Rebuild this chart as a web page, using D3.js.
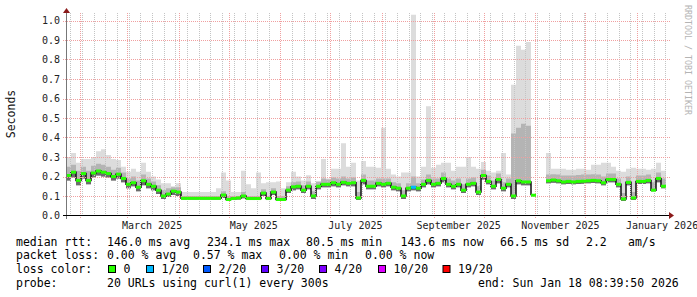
<!DOCTYPE html>
<html>
<head>
<meta charset="utf-8">
<script src="https://cdn.jsdelivr.net/npm/d3@7"></script>
<style>
  html, body { margin: 0; padding: 0; background: #fff; }
  svg { display: block; }
  text { font-family: "DejaVu Sans Mono", monospace; }
</style>
</head>
<body>
<script>
// time frame: last 360 days, one sample every 3 days
const endTime = new Date(2026, 0, 18, 8, 39, 50);
const spanDays = 360;
const stepDays = 3;

// median rtt (seconds)
const median = [
  0.205, 0.222, 0.18, 0.215, 0.18, 0.218, 0.228, 0.222, 0.215, 0.2,
  0.212, 0.19, 0.16, 0.168, 0.145, 0.178, 0.16, 0.15, 0.13, 0.1,
  0.11, 0.125, 0.12, 0.088, 0.088, 0.088, 0.088, 0.088, 0.088, 0.088,
  0.088, 0.105, 0.082, 0.087, 0.09, 0.1, 0.087, 0.087, 0.087, 0.115,
  0.087, 0.12, 0.082, 0.082, 0.13, 0.147, 0.15, 0.13, 0.15, 0.1,
  0.15, 0.16, 0.16, 0.168, 0.16, 0.17, 0.165, 0.168, 0.09, 0.18,
  0.15, 0.15, 0.165, 0.16, 0.165, 0.145, 0.14, 0.1, 0.14, 0.145,
  0.14, 0.16, 0.18, 0.16, 0.165, 0.19, 0.16, 0.15, 0.16, 0.13,
  0.16, 0.165, 0.12, 0.205, 0.175, 0.15, 0.185, 0.14, 0.16, 0.1,
  0.178, 0.172, 0.172, 0.104, null, null, 0.178, 0.182, 0.178, 0.172,
  0.175, 0.172, 0.175, 0.176, 0.178, 0.18, 0.178, 0.168, 0.185, 0.185,
  0.16, 0.085, 0.17, 0.09, 0.175, 0.175, 0.18, 0.13, 0.19, 0.15
];

// smoke: highest ping, upper quartile-ish ping, lowest ping
const smokeMax = [
  0.3, 0.32, 0.27, 0.29, 0.29, 0.3, 0.33, 0.34, 0.31, 0.29,
  0.285, 0.25, 0.225, 0.24, 0.225, 0.27, 0.225, 0.2, 0.185, 0.165,
  0.165, 0.15, 0.165, 0.12, 0.12, 0.12, 0.12, 0.12, 0.12, 0.12,
  0.14, 0.22, 0.18, 0.12, 0.12, 0.23, 0.16, 0.14, 0.22, 0.165,
  0.17, 0.17, 0.175, 0.14, 0.17, 0.225, 0.2, 0.18, 0.207, 0.165,
  0.165, 0.29, 0.19, 0.24, 0.24, 0.37, 0.25, 0.27, 0.18, 0.28,
  0.25, 0.25, 0.245, 0.45, 0.24, 0.21, 0.2, 0.22, 0.22, 1.03,
  0.2, 0.25, 0.56, 0.245, 0.26, 0.27, 0.27, 0.23, 0.25, 0.25,
  0.3, 0.25, 0.24, 0.275, 0.23, 0.22, 0.23, 0.32, 0.21, 0.67,
  0.87, 0.85, 0.89, 0.83, null, null, 0.32, 0.24, 0.24, 0.24,
  0.235, 0.235, 0.24, 0.24, 0.235, 0.26, 0.26, 0.27, 0.27, 0.25,
  0.23, 0.225, 0.24, 0.245, 0.24, 0.24, 0.235, 0.24, 0.27, 0.23
];
const smokeMid = [
  0.25, 0.26, 0.23, 0.25, 0.23, 0.255, 0.265, 0.26, 0.25, 0.235,
  0.245, 0.22, 0.19, 0.2, 0.18, 0.21, 0.19, 0.175, 0.155, 0.13,
  0.14, 0.145, 0.145, 0.1, 0.1, 0.1, 0.1, 0.1, 0.1, 0.1,
  0.1, 0.125, 0.1, 0.1, 0.1, 0.12, 0.1, 0.1, 0.1, 0.135,
  0.1, 0.14, 0.1, 0.1, 0.15, 0.17, 0.175, 0.155, 0.175, 0.125,
  0.175, 0.19, 0.185, 0.195, 0.19, 0.2, 0.19, 0.195, 0.12, 0.21,
  0.18, 0.18, 0.19, 0.19, 0.19, 0.17, 0.165, 0.13, 0.165, 0.2,
  0.165, 0.185, 0.21, 0.19, 0.19, 0.22, 0.19, 0.18, 0.19, 0.16,
  0.19, 0.195, 0.15, 0.235, 0.205, 0.18, 0.215, 0.17, 0.19, 0.42,
  0.45, 0.47, 0.46, 0.4, null, null, 0.21, 0.212, 0.21, 0.205,
  0.205, 0.205, 0.208, 0.21, 0.21, 0.212, 0.21, 0.2, 0.215, 0.215,
  0.19, 0.115, 0.2, 0.12, 0.205, 0.205, 0.21, 0.17, 0.22, 0.19
];
const smokeMin = [
  0.18, 0.195, 0.155, 0.19, 0.16, 0.195, 0.205, 0.2, 0.195, 0.18,
  0.19, 0.17, 0.14, 0.15, 0.125, 0.155, 0.14, 0.13, 0.11, 0.085,
  0.095, 0.105, 0.1, 0.082, 0.082, 0.082, 0.082, 0.082, 0.082, 0.082,
  0.082, 0.09, 0.075, 0.08, 0.082, 0.088, 0.08, 0.08, 0.08, 0.1,
  0.08, 0.105, 0.075, 0.075, 0.115, 0.13, 0.135, 0.115, 0.135, 0.085,
  0.135, 0.145, 0.145, 0.15, 0.145, 0.155, 0.15, 0.15, 0.08, 0.16,
  0.135, 0.135, 0.15, 0.145, 0.15, 0.13, 0.125, 0.085, 0.125, 0.13,
  0.125, 0.145, 0.16, 0.145, 0.15, 0.17, 0.145, 0.135, 0.145, 0.115,
  0.145, 0.15, 0.105, 0.185, 0.16, 0.135, 0.165, 0.125, 0.145, 0.085,
  0.16, 0.155, 0.155, 0.09, null, null, 0.165, 0.168, 0.165, 0.16,
  0.162, 0.16, 0.162, 0.163, 0.165, 0.167, 0.165, 0.155, 0.17, 0.17,
  0.145, 0.075, 0.155, 0.08, 0.162, 0.162, 0.165, 0.125, 0.17, 0.14
];

// samples with packet loss (index, lost pings)
const lossSamples = [[69, 1]];

const lossLabels = ["0", "1/20", "2/20", "3/20", "4/20", "10/20", "19/20"];
const lossLimits = [0, 1, 2, 3, 4, 10, 19];
const lossColors = ["#26ff00", "#00b8ff", "#0059ff", "#5e00ff", "#7e00ff", "#dd00ff", "#ff0000"];

const yTicks = [0, 0.1, 0.2, 0.3, 0.4, 0.5, 0.6, 0.7, 0.8, 0.9, 1.0];

const legendRows = [
  [["median rtt:", 16], ["146.0 ms avg", 107], ["234.1 ms max", 207], ["80.5 ms min", 306],
   ["143.6 ms now", 400.5], ["66.5 ms sd", 500], ["2.2", 586], ["am/s", 628]],
  [["packet loss:", 16], ["0.00 % avg", 107], ["0.57 % max", 193], ["0.00 % min", 279], ["0.00 % now", 365]],
  [["loss color:", 16]],
  [["probe:", 16], ["20 URLs using curl(1) every 300s", 107], ["end: Sun Jan 18 08:39:50 2026", 478]]
];
const swatchX = [108, 146, 203, 261, 319, 378, 442.5];

const width = 697, height = 297;
const svg = d3.select('body').append('svg')
    .attr('width', width)
    .attr('height', height);

svg.append('rect').attr('width', width).attr('height', height).attr('fill', '#fff');

const startTime = new Date(+endTime - spanDays * 864e5);
const x = d3.scaleTime().domain([startTime, endTime]).range([66, 666]);
const y = d3.scaleLinear().domain([0, 1]).range([215.5, 20.5]);
const crisp = v => Math.round(v) + 0.5;

const rows = median.map((m, i) => ({
    t: new Date(+startTime + i * stepDays * 864e5),
    med: m, hi: smokeMax[i], mid: smokeMid[i], lo: smokeMin[i], loss: 0
}));
lossSamples.forEach(([i, l]) => rows[i].loss = l);
// close the last step at the end of the graph
rows.push(Object.assign({}, rows[rows.length - 1], { t: endTime }));

const plot = svg.append('g');

// smoke
const smokeArea = top => d3.area()
    .defined(d => d.med != null)
    .curve(d3.curveStepAfter)
    .x(d => x(d.t))
    .y0(d => y(d.lo))
    .y1(d => y(Math.min(d[top], 1.03)));

plot.append('path').datum(rows).attr('fill', '#dcdcdc').attr('d', smokeArea('hi'));
plot.append('path').datum(rows).attr('fill', '#b4b4b4').attr('d', smokeArea('mid'));
plot.append('path').datum(rows).attr('fill', '#6c6c6c').attr('d', smokeArea('med'));

// grid
const grid = svg.append('g');
d3.timeSunday.range(startTime, endTime).forEach(d => {
    grid.append('line')
        .attr('x1', crisp(x(d))).attr('x2', crisp(x(d)))
        .attr('y1', 13).attr('y2', 217)
        .attr('stroke', '#c4c4c4').attr('stroke-dasharray', '1,1');
});
d3.timeMonth.range(startTime, endTime).forEach(d => {
    grid.append('line')
        .attr('x1', crisp(x(d))).attr('x2', crisp(x(d)))
        .attr('y1', 13).attr('y2', 219)
        .attr('stroke', '#f0a0a0').attr('stroke-dasharray', '1,1');
});
yTicks.filter(v => v > 0).forEach(v => {
    grid.append('line')
        .attr('x1', 63).attr('x2', 670)
        .attr('y1', crisp(y(v))).attr('y2', crisp(y(v)))
        .attr('stroke', '#f0a0a0').attr('stroke-dasharray', '1,1');
});

// median line, dark step line with loss colored segments on top
plot.append('path').datum(rows)
    .attr('fill', 'none')
    .attr('stroke', '#111')
    .attr('stroke-width', 1.5)
    .attr('d', d3.line().defined(d => d.med != null).curve(d3.curveStepAfter)
        .x(d => x(d.t)).y(d => y(d.med)));

const lossColor = l => lossColors[d3.bisectRight(lossLimits, l) - 1];
svg.append('g').selectAll('line')
    .data(rows.slice(0, -1).filter(d => d.med != null))
    .enter()
    .append('line')
    .attr('x1', d => x(d.t))
    .attr('x2', d => x(new Date(+d.t + stepDays * 864e5)))
    .attr('y1', d => y(d.med))
    .attr('y2', d => y(d.med))
    .attr('stroke', d => lossColor(d.loss))
    .attr('stroke-width', 3);

// axes
svg.append('line').attr('x1', 66.5).attr('x2', 66.5).attr('y1', 219).attr('y2', 12)
    .attr('stroke', '#777');
svg.append('path').attr('d', 'M63,13L70,13L66.5,8Z').attr('fill', '#8b1a1a');
svg.append('line').attr('x1', 63).attr('x2', 670).attr('y1', 215.5).attr('y2', 215.5)
    .attr('stroke', '#000');
svg.append('path').attr('d', 'M669,212L669,219L674,215.5Z').attr('fill', '#8b1a1a');

// tick labels
svg.append('g').selectAll('text')
    .data(yTicks)
    .enter()
    .append('text')
    .attr('x', 60)
    .attr('y', d => y(d) + 3.5)
    .attr('text-anchor', 'end')
    .attr('font-size', '10px')
    .attr('fill', '#222')
    .text(d => d.toFixed(1));

const fmtMonth = d3.timeFormat('%B %Y');
svg.append('g').selectAll('text')
    .data(d3.timeMonth.every(2).range(startTime, endTime)
        .map(d => d3.timeDay.offset(d, 15))
        .filter(d => d <= endTime))
    .enter()
    .append('text')
    .attr('x', d => x(d))
    .attr('y', 228.5)
    .attr('text-anchor', 'middle')
    .attr('font-size', '10px')
    .attr('fill', '#222')
    .text(d => fmtMonth(d));

// titles
svg.append('text')
    .attr('transform', 'translate(14.5,114) rotate(-90)')
    .attr('text-anchor', 'middle')
    .attr('font-size', '11.5px')
    .attr('fill', '#111')
    .text('Seconds');

svg.append('text')
    .attr('transform', 'translate(685,5) rotate(90)')
    .attr('font-size', '8.3px')
    .attr('fill', '#b4b4b4')
    .text('RRDTOOL / TOBI OETIKER');

// legend
const baselines = [245.5, 259, 273, 286.5];
legendRows.forEach((row, r) => {
    row.forEach(([txt, lx]) => {
        svg.append('text')
            .attr('x', lx)
            .attr('y', baselines[r])
            .attr('font-size', '11.5px')
            .attr('fill', '#000')
            .attr('xml:space', 'preserve')
            .text(txt);
    });
});
lossLabels.forEach((lab, k) => {
    svg.append('rect')
        .attr('x', swatchX[k] + 0.5).attr('y', 265.5)
        .attr('width', 7).attr('height', 7)
        .attr('fill', lossColors[k])
        .attr('stroke', '#000');
    svg.append('text')
        .attr('x', swatchX[k] + 15.5)
        .attr('y', baselines[2])
        .attr('font-size', '11.5px')
        .attr('fill', '#000')
        .text(lab);
});
</script>
</body>
</html>
